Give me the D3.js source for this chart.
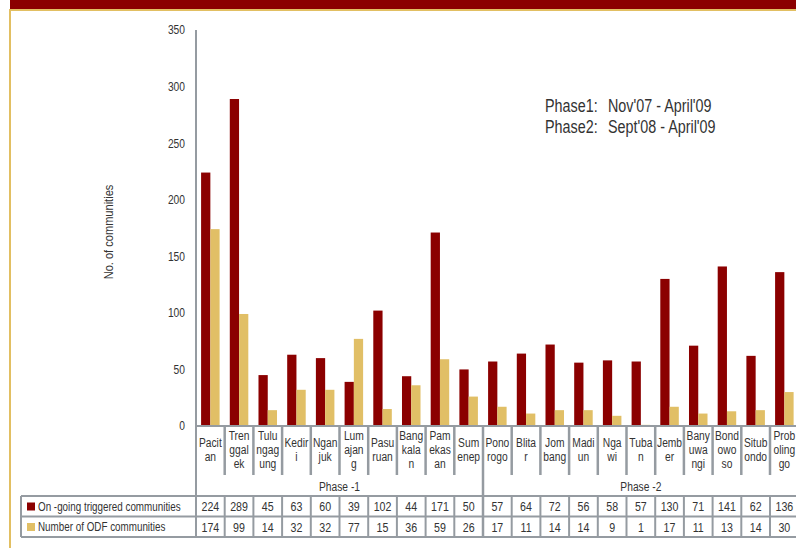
<!DOCTYPE html>
<html>
<head>
<meta charset="utf-8">
<title>Communities chart</title>
<script src="https://cdn.jsdelivr.net/npm/d3@7"></script>
<style>
  body { margin: 0; background: #fff; }
  text { font-family: "Liberation Sans", Arial, sans-serif; fill: #333; }
</style>
</head>
<body>
<script>
// data
const categories = ["Pacitan", "Trenggalek", "Tulungagung", "Kediri", "Nganjuk", "Lumajang", "Pasuruan",
  "Bangkalan", "Pamekasan", "Sumenep", "Ponorogo", "Blitar", "Jombang", "Madiun", "Ngawi", "Tuban",
  "Jember", "Banyuwangi", "Bondowoso", "Situbondo", "Probolinggo"];
const categoryLabels = ["Pacit\nan", "Tren\nggal\nek", "Tulu\nngag\nung", "Kedir\ni", "Ngan\njuk", "Lum\najan\ng",
  "Pasu\nruan", "Bang\nkala\nn", "Pam\nekas\nan", "Sum\nenep", "Pono\nrogo", "Blita\nr", "Jom\nbang", "Madi\nun",
  "Nga\nwi", "Tuba\nn", "Jemb\ner", "Bany\nuwa\nngi", "Bond\nowo\nso", "Situb\nondo", "Prob\noling\ngo"];
const ongoing = [224, 289, 45, 63, 60, 39, 102, 44, 171, 50, 57, 64, 72, 56, 58, 57, 130, 71, 141, 62, 136];
const odf = [174, 99, 14, 32, 32, 77, 15, 36, 59, 26, 17, 11, 14, 14, 9, 1, 17, 11, 13, 14, 30];
const seriesNames = ["On -going triggered communities", "Number of ODF communities"];
const seriesColors = ["#8b0000", "#e1bf66"];
const phaseNames = ["Phase -1", "Phase -2"];
const phaseCounts = [10, 11];
const yTicks = [0, 50, 100, 150, 200, 250, 300, 350];
const noteLines = [["Phase1:", "Nov'07 - April'09"], ["Phase2:", "Sept'08 - April'09"]];

const w = 796, h = 548;
const lineColor = "#959ba1";
const squeeze = 0.82; // the original uses a narrow font

const svg = d3.select("body").append("svg")
  .attr("width", w).attr("height", h);

// narrow text helper
function txt(px, py, str, size, anchor, rot) {
  return svg.append("text")
    .attr("transform", "translate(" + px + "," + py + ")" + (rot ? " rotate(" + rot + ")" : "") + " scale(" + squeeze + ",1)")
    .attr("dy", "0.35em")
    .attr("text-anchor", anchor || "start")
    .attr("font-size", size)
    .text(str);
}

// banner and gold frame
svg.append("rect").attr("x", 10).attr("y", 0).attr("width", w - 10).attr("height", 10).attr("fill", "#8b0000");
svg.append("rect").attr("x", 9).attr("y", 9).attr("width", w - 9).attr("height", 2).attr("fill", "#e2bf62");
svg.append("rect").attr("x", 9).attr("y", 9).attr("width", 2).attr("height", h - 9).attr("fill", "#e2bf62");

// scales
const x = d3.scaleBand().domain(categories).range([196, 196 + 28.7 * 21]).paddingInner(0);
const x1 = d3.scaleBand().domain(seriesNames).range([0, x.bandwidth()]).paddingInner(0).paddingOuter(0.55);
const y = d3.scaleLinear().domain([0, 350]).range([426, 30]);

// y tick labels
yTicks.forEach(function (d) {
  txt(185, y(d), d, 12.5, "end");
});

txt(108, 232, "No. of communities", 13.5, "middle", -90);

// bars
const seriesData = [ongoing, odf];
seriesData.forEach(function (vals, s) {
  svg.selectAll(".bar" + s).data(vals).enter().append("rect")
    .attr("class", "bar" + s)
    .attr("x", (d, i) => x(categories[i]) + x1(seriesNames[s]))
    .attr("y", d => y(d))
    .attr("width", x1.bandwidth())
    .attr("height", d => y(0) - y(d))
    .attr("fill", seriesColors[s]);
});

// note
noteLines.forEach(function (ln, i) {
  txt(545, 106 + i * 20.5, ln[0], 17.5);
  txt(608, 106 + i * 20.5, ln[1], 17.5);
});

// table lines
const g = svg.append("g").attr("stroke", lineColor).attr("stroke-width", 2).attr("fill", "none");
const xEnd = x.range()[1];
// axis line
g.append("line").attr("x1", 196).attr("x2", 196).attr("y1", 30).attr("y2", 537);
g.append("line").attr("x1", 196).attr("x2", xEnd).attr("y1", 426).attr("y2", 426);
// category separators
categories.forEach(function (c, i) {
  if (i === 0) return;
  const isPhase = (i === phaseCounts[0]);
  g.append("line")
    .attr("x1", x(c)).attr("x2", x(c))
    .attr("y1", 426).attr("y2", isPhase ? 537 : 475)
    .attr("stroke-width", 2.5);
  g.append("line")
    .attr("x1", x(c)).attr("x2", x(c))
    .attr("y1", 496).attr("y2", 537);
});
[496, 516.5, 537].forEach(function (yy) {
  g.append("line").attr("x1", 21).attr("x2", xEnd).attr("y1", yy).attr("y2", yy);
});
g.append("line").attr("x1", 21).attr("x2", 21).attr("y1", 496).attr("y2", 537);

// category labels
categoryLabels.forEach(function (lbl, i) {
  const parts = lbl.split("\n");
  const cx = x(categories[i]) + x.bandwidth() / 2;
  const top = 450 - (parts.length - 1) * 7;
  parts.forEach(function (p, j) {
    txt(cx, top + j * 14, p, 12.5, "middle");
  });
});

// phase labels
let start = 0;
phaseNames.forEach(function (p, k) {
  const x0 = x(categories[start]);
  const x2 = x(categories[start + phaseCounts[k] - 1]) + x.bandwidth();
  txt((x0 + x2) / 2, 487, p, 12.5, "middle");
  start += phaseCounts[k];
});

// data rows with legend
seriesData.forEach(function (vals, s) {
  const cy = 506.5 + s * 20.5;
  svg.append("rect").attr("x", 27).attr("y", cy - 4).attr("width", 8).attr("height", 8).attr("fill", seriesColors[s]);
  txt(38, cy, seriesNames[s], 12);
  vals.forEach(function (d, i) {
    txt(x(categories[i]) + x.bandwidth() / 2, cy, d, 13, "middle");
  });
});
</script>
</body>
</html>
